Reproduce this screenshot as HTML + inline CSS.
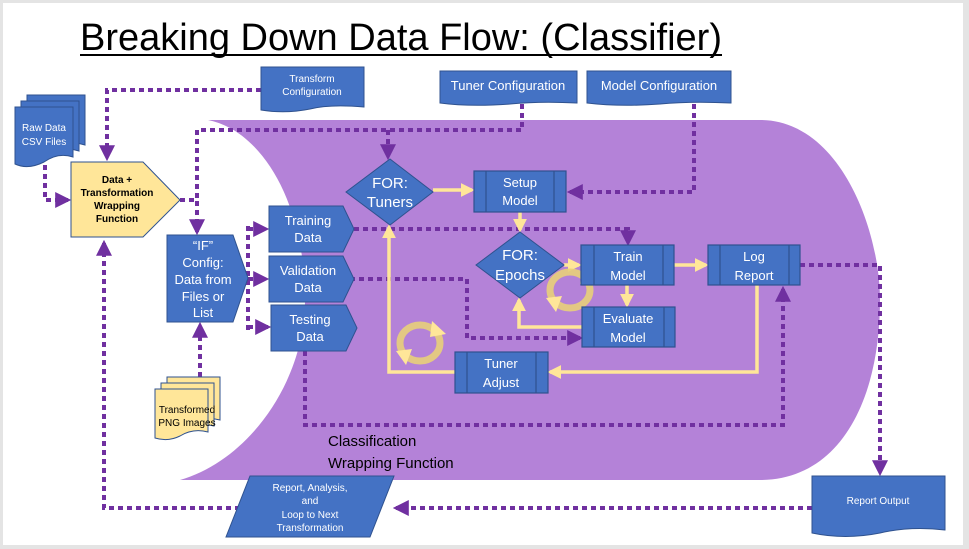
<!DOCTYPE html>
<html><head><meta charset="utf-8"><style>
html,body{margin:0;padding:0;background:#e4e4e4;}
svg{display:block;font-family:"Liberation Sans",sans-serif;}
</style></head><body>
<svg width="969" height="549" viewBox="0 0 969 549" xmlns="http://www.w3.org/2000/svg">
<defs>
<marker id="pa" viewBox="0 0 10 10" refX="8" refY="5" markerWidth="4" markerHeight="4" orient="auto"><path d="M0,0L10,5L0,10z" fill="#7030a0"/></marker>
<marker id="ya" viewBox="0 0 10 10" refX="8" refY="5" markerWidth="4" markerHeight="4" orient="auto"><path d="M0,0L10,5L0,10z" fill="#ffe699"/></marker>
</defs>
<rect x="3" y="3" width="960" height="542" fill="#fff"/>
<!-- title -->
<text x="80" y="50" font-size="38" textLength="642" lengthAdjust="spacingAndGlyphs" fill="#000">Breaking Down Data Flow: (Classifier)</text>
<rect x="80" y="54" width="642" height="2" fill="#000"/>

<!-- purple cylinder -->
<path d="M208,120 L760,120 C840,120 880,230 880,300 C880,400 840,480 760,480 L180,480 C250,460 305,380 305,300 C305,200 260,130 208,120 Z" fill="#b482d8"/>

<g stroke="#7030a0" stroke-width="4" stroke-dasharray="5 4" fill="none">
<path d="M261,90 H107 V158" marker-end="url(#pa)"/>
<path d="M45,165 V200 H68" marker-end="url(#pa)"/>
<path d="M180,200 H197 V232" marker-end="url(#pa)"/>
<path d="M522,104 V130 H197 V200"/>
<path d="M388,130 V157" marker-end="url(#pa)"/>
<path d="M694,104 V192 H570" marker-end="url(#pa)"/>
<path d="M248,226 V330"/>
<path d="M248,229 H266" marker-end="url(#pa)"/>
<path d="M248,279 H266" marker-end="url(#pa)"/>
<path d="M248,327 H268" marker-end="url(#pa)"/>
<path d="M200,377 V325" marker-end="url(#pa)"/>
<path d="M240,508 H104 V243" marker-end="url(#pa)"/>
<path d="M812,508 H396" marker-end="url(#pa)"/>
<path d="M800,265 H880 V473" marker-end="url(#pa)"/>
<path d="M354,229 H628 V243" marker-end="url(#pa)"/>
<path d="M350,279 H467 V338 H580" marker-end="url(#pa)"/>
<path d="M305,351 V425 H783 V289" marker-end="url(#pa)"/>
</g>

<g stroke="#ffe699" stroke-width="3.5" fill="none">
<path d="M433,190 H472" marker-end="url(#ya)"/>
<path d="M520,212 V230" marker-end="url(#ya)"/>
<path d="M564,265 H579" marker-end="url(#ya)"/>
<path d="M674,265 H706" marker-end="url(#ya)"/>
<path d="M627,285 V305" marker-end="url(#ya)"/>
<path d="M582,327 H519 V300" marker-end="url(#ya)"/>
<path d="M757,285 V372 H550" marker-end="url(#ya)"/>
<path d="M455,372 H389 V227" marker-end="url(#ya)"/>
</g>

<!-- cycle icons -->
<g fill="none" stroke="#e8cf7a" stroke-width="7" opacity="0.9">
<ellipse cx="570" cy="290" rx="20" ry="18"/>
<ellipse cx="420" cy="343" rx="20" ry="18"/>
</g>
<g fill="#ffe699">
<path d="M582,268 L596,282 L580,284z"/><path d="M556,312 L546,298 L562,296z"/>
<path d="M432,321 L446,334 L430,337z"/><path d="M406,365 L396,351 L412,349z"/>
</g>

<!-- Raw data docs -->
<g fill="#4472c4" stroke="#2f528f" stroke-width="1">
<path d="M27,95 H85 V145 Q70,140 56,150 Q40,158 27,152Z"/>
<path d="M21,101 H79 V151 Q64,146 50,156 Q34,164 21,158Z"/>
<path d="M15,107 H73 V157 Q58,152 44,162 Q28,170 15,164Z"/>
</g>
<text x="44" y="131" font-size="10" fill="#fff" text-anchor="middle">Raw Data</text>
<text x="44" y="145" font-size="10" fill="#fff" text-anchor="middle">CSV Files</text>

<!-- Transform config -->
<path d="M261,67 H364 V107 Q330,104 310,109 Q285,114 261,110Z" fill="#4472c4" stroke="#2f528f"/>
<text x="312" y="82" font-size="10" fill="#fff" text-anchor="middle">Transform</text>
<text x="312" y="95" font-size="10" fill="#fff" text-anchor="middle">Configuration</text>

<!-- Tuner / Model config -->
<path d="M440,71 H577 V103 Q540,101 510,104 Q470,107 440,103Z" fill="#4472c4" stroke="#2f528f"/>
<text x="508" y="90" font-size="13" fill="#fff" text-anchor="middle">Tuner Configuration</text>
<path d="M587,71 H731 V103 Q690,101 660,104 Q620,107 587,103Z" fill="#4472c4" stroke="#2f528f"/>
<text x="659" y="90" font-size="13" fill="#fff" text-anchor="middle">Model Configuration</text>

<!-- Data + Transformation -->
<path d="M71,162 H143 L180,200 L143,237 H71Z" fill="#ffe699" stroke="#2f528f"/>
<g font-size="10" font-weight="bold" fill="#000" text-anchor="middle">
<text x="117" y="183">Data +</text><text x="117" y="196">Transformation</text><text x="117" y="209">Wrapping</text><text x="117" y="222">Function</text>
</g>

<!-- IF config -->
<path d="M167,235 H233 L248,278 L233,322 H167Z" fill="#4472c4" stroke="#2f528f"/>
<g font-size="13" fill="#fff" text-anchor="middle">
<text x="203" y="250">“IF”</text><text x="203" y="267">Config:</text><text x="203" y="284">Data from</text><text x="203" y="301">Files or</text><text x="203" y="317">List</text>
</g>

<!-- Data boxes -->
<g fill="#4472c4" stroke="#2f528f">
<path d="M269,206 H343 L354,229 L343,252 H269Z"/>
<path d="M269,256 H343 L354,279 L343,302 H269Z"/>
<path d="M271,305 H346 L357,328 L346,351 H271Z"/>
</g>
<g font-size="13" fill="#fff" text-anchor="middle">
<text x="308" y="225">Training</text><text x="308" y="242">Data</text>
<text x="308" y="275">Validation</text><text x="308" y="292">Data</text>
<text x="310" y="324">Testing</text><text x="310" y="341">Data</text>
</g>

<!-- diamonds -->
<path d="M390,159 L433,192 L390,225 L346,192Z" fill="#4472c4" stroke="#2f528f"/>
<text x="390" y="188" font-size="15" fill="#fff" text-anchor="middle">FOR:</text>
<text x="390" y="207" font-size="15" fill="#fff" text-anchor="middle">Tuners</text>
<path d="M520,232 L564,265 L520,298 L476,265Z" fill="#4472c4" stroke="#2f528f"/>
<text x="520" y="260" font-size="15" fill="#fff" text-anchor="middle">FOR:</text>
<text x="520" y="280" font-size="15" fill="#fff" text-anchor="middle">Epochs</text>

<!-- process boxes -->
<g fill="#4472c4" stroke="#2f528f" stroke-width="1.2">
<rect x="474" y="171" width="92" height="41"/><path d="M486,171V212M554,171V212"/>
<rect x="581" y="245" width="93" height="40"/><path d="M594,245V285M663,245V285"/>
<rect x="708" y="245" width="92" height="40"/><path d="M720,245V285M789,245V285"/>
<rect x="582" y="307" width="93" height="40"/><path d="M594,307V347M664,307V347"/>
<rect x="455" y="352" width="93" height="41"/><path d="M467,352V393M536,352V393"/>
</g>
<g font-size="13" fill="#fff" text-anchor="middle">
<text x="520" y="187">Setup</text><text x="520" y="205">Model</text>
<text x="628" y="261">Train</text><text x="628" y="280">Model</text>
<text x="754" y="261">Log</text><text x="754" y="280">Report</text>
<text x="628" y="323">Evaluate</text><text x="628" y="342">Model</text>
<text x="501" y="368">Tuner</text><text x="501" y="387">Adjust</text>
</g>

<!-- PNG images -->
<g fill="#ffe699" stroke="#2f528f">
<path d="M167,377 H220 V420 Q205,416 192,424 Q180,430 167,426Z"/>
<path d="M161,383 H214 V426 Q199,422 186,430 Q174,436 161,432Z"/>
<path d="M155,389 H208 V432 Q193,428 180,436 Q168,442 155,438Z"/>
</g>
<text x="187" y="413" font-size="10" fill="#000" text-anchor="middle">Transformed</text>
<text x="187" y="426" font-size="10" fill="#000" text-anchor="middle">PNG Images</text>

<!-- classification label -->
<text x="328" y="446" font-size="15" fill="#000">Classification</text>
<text x="328" y="468" font-size="15" fill="#000">Wrapping Function</text>

<!-- report output -->
<path d="M812,476 H945 V530 Q910,526 880,533 Q845,540 812,533Z" fill="#4472c4" stroke="#2f528f"/>
<text x="878" y="504" font-size="10" fill="#fff" text-anchor="middle">Report Output</text>

<!-- parallelogram -->
<path d="M250,476 H394 L370,537 H226Z" fill="#4472c4" stroke="#2f528f"/>
<g font-size="10" fill="#fff" text-anchor="middle">
<text x="310" y="491">Report, Analysis,</text><text x="310" y="504">and</text><text x="310" y="518">Loop to Next</text><text x="310" y="531">Transformation</text>
</g>
</svg>
</body></html>
